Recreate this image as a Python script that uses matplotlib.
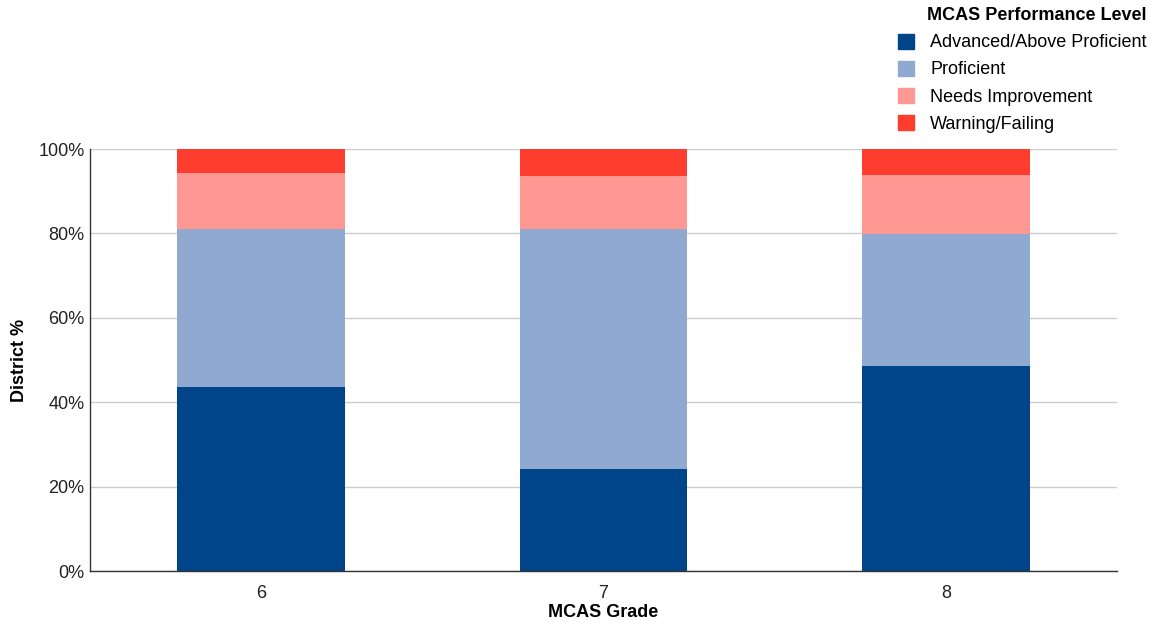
import matplotlib
matplotlib.use("Agg")
import matplotlib.pyplot as plt
from matplotlib.patches import Patch
import numpy as np

plt.rcParams['font.family'] = ['Liberation Sans', 'DejaVu Sans']

grades = ["6", "7", "8"]
advanced = [43.5, 24.2, 48.6]
proficient = [37.5, 56.8, 31.3]
needs_improvement = [13.3, 12.5, 13.9]
warning = [5.7, 6.5, 6.2]

levels = ["Advanced/Above Proficient", "Proficient", "Needs Improvement", "Warning/Failing"]
colors = ["#00458A", "#8FA9D1", "#FF9893", "#FF3D2E"]

fig = plt.figure(figsize=(11.61, 6.26), dpi=100)
ax = fig.add_axes([90 / 1161, 1 - 571 / 626, 1027 / 1161, 422 / 626])

x = np.arange(len(grades))
bottom = np.zeros(len(grades))
for vals, col in zip([advanced, proficient, needs_improvement, warning], colors):
    ax.bar(x, vals, width=0.49, bottom=bottom, color=col, zorder=3)
    bottom += np.array(vals)

ax.set_xlim(-0.5, 2.5)
ax.set_ylim(0, 100)
ax.set_yticks(np.arange(0, 101, 20))
ax.set_yticklabels([f"{v}%" for v in range(0, 101, 20)])
ax.set_xticks(x)
ax.set_xticklabels(grades)
ax.tick_params(axis='both', length=0, labelsize=13, colors="#222222")
ax.tick_params(axis='y', pad=4)
ax.tick_params(axis='x', pad=10)
ax.grid(axis='y', color="#cccccc", linewidth=1, zorder=0)
for s in ["top", "right"]:
    ax.spines[s].set_visible(False)
for s in ["left", "bottom"]:
    ax.spines[s].set_color("#333333")
    ax.spines[s].set_linewidth(1)
    ax.spines[s].set_zorder(4)

ax.set_xlabel("MCAS Grade", fontsize=13, fontweight="bold", labelpad=1.5)
ax.set_ylabel("District %", fontsize=13, fontweight="bold", labelpad=7)

handles = [Patch(facecolor=c, edgecolor=c) for c in colors]
leg = fig.legend(handles, levels, title="MCAS Performance Level",
                 loc="upper right", bbox_to_anchor=(1154 / 1161, 1.0),
                 frameon=False, fontsize=13, handlelength=0.9, handleheight=0.9,
                 handletextpad=0.9, labelspacing=0.52, borderaxespad=0)
leg.get_title().set_fontweight("bold")
leg.get_title().set_fontsize(13)
leg._legend_box.align = "right"

fig.savefig("out.png", dpi=100)
